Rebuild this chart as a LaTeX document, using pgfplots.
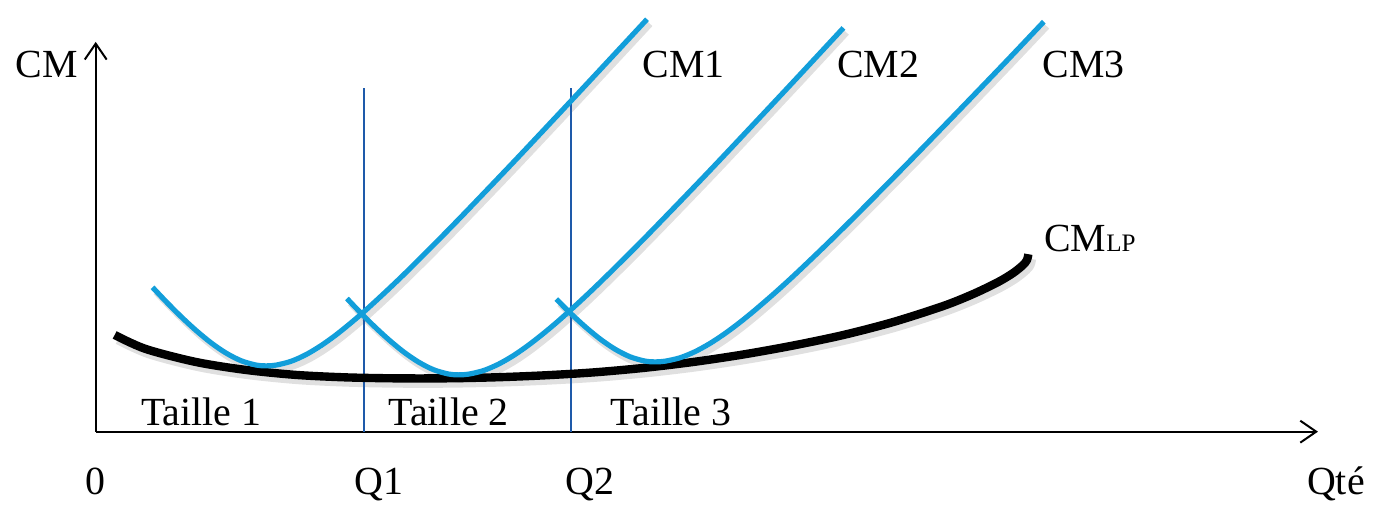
\documentclass[border=0pt]{standalone}
\usepackage{fontspec}
\setmainfont{Liberation Serif}
\usepackage{pgfplots}
\usepackage{pgfplotstable}
\pgfplotsset{compat=1.18}
\usetikzlibrary{arrows.meta}
\definecolor{cmblue}{RGB}{18,158,218}
\definecolor{qblue}{RGB}{30,90,170}
\pgfplotstableread{
x y
57 144.8
71 130
86 115
101 101.2
116 88.9
131 78.7
146 71.1
161 66.8
171 66
181 66.8
196 70.6
211 77.3
226 86.3
241 97
256 109.1
271 122
291 140.4
311 159.5
341 189.4
371 220.1
421 272.4
471 325.6
511 368.5
553 413.7
}\cmone
\pgfplotstableread{
x y
252 133.6
264 121
279 106
294 92.2
309 79.9
324 69.7
339 62.1
354 57.8
364 57
374 57.7
389 61.3
404 67.7
419 76.3
434 86.7
449 98.4
464 111
484 129
504 147.9
534 177.4
564 207.9
614 259.8
664 312.8
704 355.5
750 405
}\cmtwo
\pgfplotstableread{
x y
462 133
476 119
491 105.2
506 92.9
521 82.7
536 75.1
551 70.8
561 70
571 70.7
586 74.1
601 80.2
616 88.4
631 98.3
646 109.5
661 121.7
681 139
701 157.2
731 185.8
761 215.3
811 265.7
861 317.1
911 369
951 411.2
}\cmthree
\pgfplotstableread{
x y
19 97
50 83
100 70
150 62
200 57
250 54.5
300 53.5
350 53.5
400 54.5
450 56.5
500 59.5
550 64
600 70
650 77.5
700 86.5
750 97
800 110
850 126
880 138
905 150
920 159
930 167
934 172
935.5 178
}\cmlp
\begin{document}
\fontsize{20}{24}\selectfont
\begin{tikzpicture}
\begin{axis}[
  x=0.5pt, y=0.5pt,
  xmin=0, xmax=1226, ymin=0, ymax=391,
  enlargelimits=false,
  axis lines=left,
  axis line style={line width=1pt, -{Straight Barb[length=8pt,width=11pt,line width=1pt]}},
  xtick=\empty, ytick=\empty,
  clip=false,
]
% bounding box of the whole picture
\path (axis cs:-96,-70) rectangle (axis cs:1282,433);

% shadows
\begin{scope}[shift={(0.8pt,-1.2pt)}]
\addplot[black!35, opacity=0.35, line width=3pt, smooth, tension=0.5] table {\cmone};
\addplot[black!35, opacity=0.35, line width=3pt, smooth, tension=0.5] table {\cmtwo};
\addplot[black!35, opacity=0.35, line width=3pt, smooth, tension=0.5] table {\cmthree};
\addplot[black!35, opacity=0.35, line width=4.6pt, smooth, tension=0.5] table {\cmlp};
\end{scope}

% vertical lines Q1, Q2
\addplot[qblue, line width=0.8pt] coordinates {(269,0)(269,345)};
\addplot[qblue, line width=0.8pt] coordinates {(477,0)(477,345)};

% CMLP
\addplot[black, line width=4.2pt, smooth, tension=0.5] table {\cmlp};
% CM1, CM2, CM3
\addplot[cmblue, line width=2.6pt, smooth, tension=0.5] table {\cmone};
\addplot[cmblue, line width=2.6pt, smooth, tension=0.5] table {\cmtwo};
\addplot[cmblue, line width=2.6pt, smooth, tension=0.5] table {\cmthree};

% labels
\node[anchor=base] at (axis cs:-49,355) {CM};
\node[anchor=base] at (axis cs:590,355) {CM1};
\node[anchor=base] at (axis cs:785,355) {CM2};
\node[anchor=base] at (axis cs:991,355) {CM3};
\node[anchor=base west, inner sep=0pt] at (axis cs:951,181) {CM{\fontsize{12.6}{13}\selectfont LP}};
\node[anchor=base] at (axis cs:106,6) {Taille 1};
\node[anchor=base] at (axis cs:354,6) {Taille 2};
\node[anchor=base] at (axis cs:577,6) {Taille 3};
\node[anchor=base] at (axis cs:0,-63) {0};
\node[anchor=base] at (axis cs:284,-63) {Q1};
\node[anchor=base] at (axis cs:496,-63) {Q2};
\node[anchor=base] at (axis cs:1244,-63) {Qté};
\end{axis}
\end{tikzpicture}
\end{document}
